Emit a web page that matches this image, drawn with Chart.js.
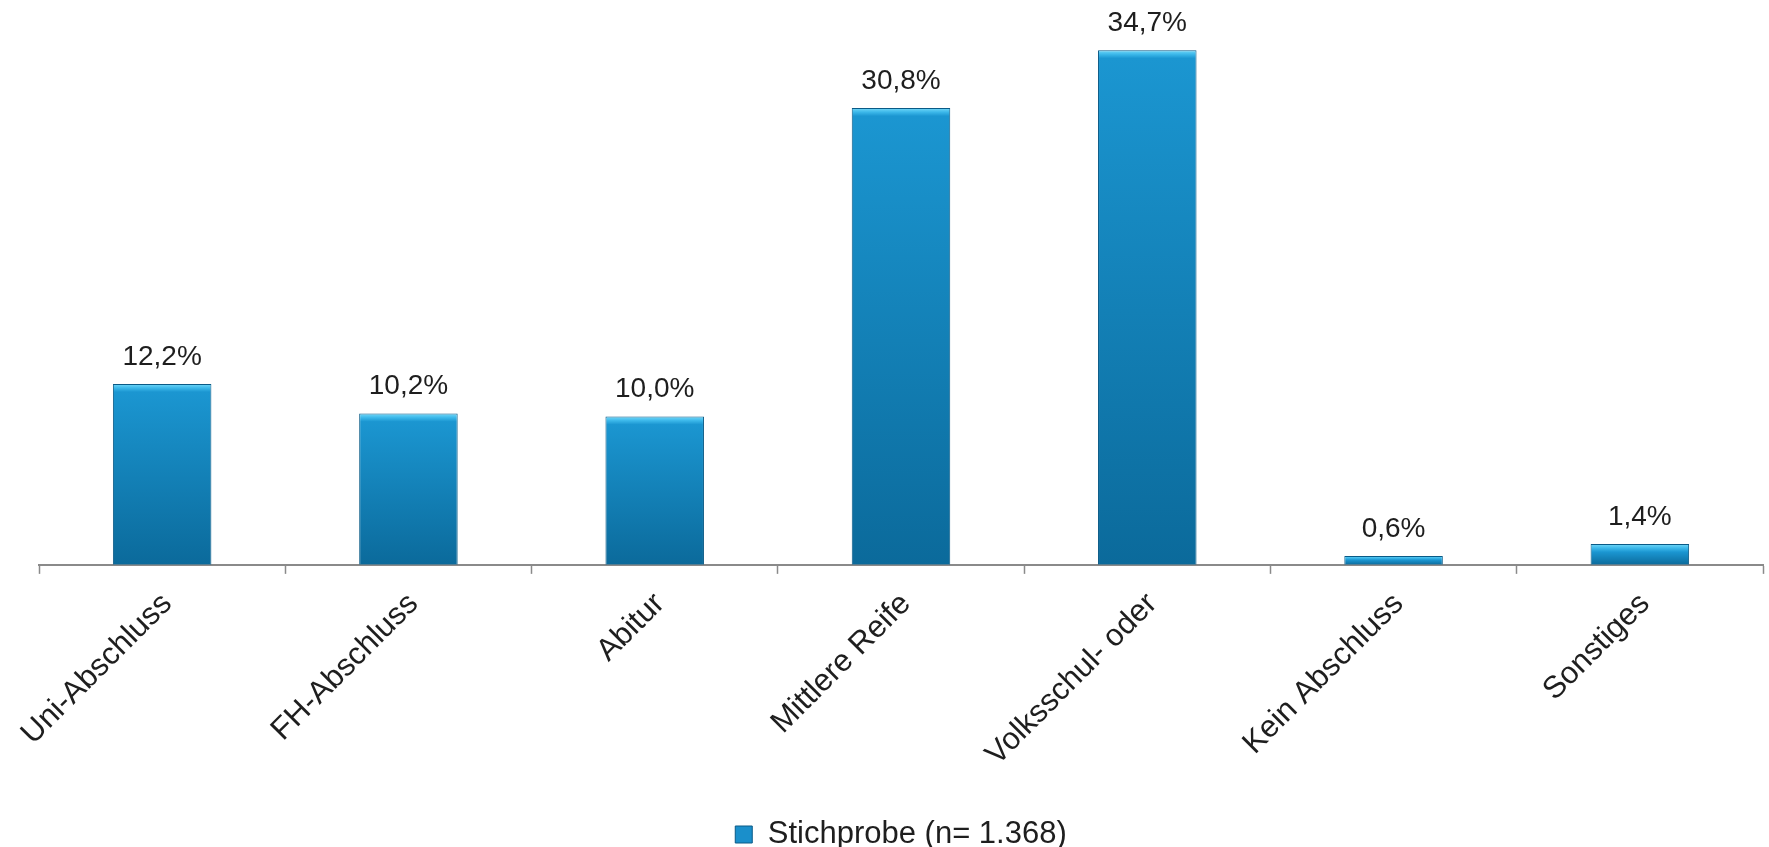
<!DOCTYPE html>
<html>
<head>
<meta charset="utf-8">
<script src="https://cdn.jsdelivr.net/npm/chart.js@4.4.1/dist/chart.umd.min.js"></script>
<style>
  html, body { margin: 0; padding: 0; background: #fff; }
  #wrap { width: 1769px; height: 847px; }
</style>
</head>
<body>
<div id="wrap"><canvas id="chart"></canvas></div>
<script>
const categories = ['Uni-Abschluss', 'FH-Abschluss', 'Abitur', 'Mittlere Reife', 'Volksschul- oder', 'Kein Abschluss', 'Sonstiges'];
const sampleValues = [12.2, 10.2, 10.0, 30.8, 34.7, 0.6, 1.4];
const seriesLabel = 'Stichprobe (n= 1.368)';

const FONT = "'Liberation Sans', Arial, sans-serif";
const TEXT_COLOR = '#1e1e1e';

function fmtPct(v) {
  return v.toFixed(1).replace('.', ',') + '%';
}

// per-bar vertical gradient with a light bevel at the top
function barGradient(ctx) {
  const chart = ctx.chart;
  if (!chart.chartArea || ctx.type !== 'data') return '#1a8fcb';
  const y = chart.scales.y;
  const top = y.getPixelForValue(ctx.parsed.y);
  const bottom = y.getPixelForValue(0);
  const h = Math.max(bottom - top, 1);
  const g = chart.ctx.createLinearGradient(0, top, 0, bottom);
  const bevel = Math.min(8 / h, 0.45);
  g.addColorStop(0, '#74d8f8');
  g.addColorStop(bevel * 0.5, '#3cb8ea');
  g.addColorStop(bevel, '#1b96d1');
  g.addColorStop(1, '#0b6a9b');
  return g;
}

const valueLabels = {
  id: 'valueLabels',
  afterDatasetsDraw(chart) {
    const ctx = chart.ctx;
    const meta = chart.getDatasetMeta(0);
    ctx.save();
    ctx.font = '28px ' + FONT;
    ctx.fillStyle = TEXT_COLOR;
    ctx.textAlign = 'center';
    ctx.textBaseline = 'bottom';
    meta.data.forEach((bar, i) => {
      ctx.fillText(fmtPct(sampleValues[i]), bar.x, bar.y - 13);
    });
    ctx.restore();
  }
};

// legend sits very close to the bottom edge in the original
const lowerLegend = {
  id: 'lowerLegend',
  beforeLayout(chart) {
    const legend = chart.legend;
    if (!legend || legend._lowered) return;
    const fit = legend.fit;
    legend.fit = function () {
      fit.call(this);
      this.height -= 13;
    };
    legend._lowered = true;
  }
};

new Chart(document.getElementById('chart'), {
  type: 'bar',
  data: {
    labels: categories,
    datasets: [{
      label: seriesLabel,
      data: sampleValues,
      backgroundColor: barGradient,
      borderColor: '#0a5a86',
      borderWidth: 1,
      barPercentage: 0.8,
      categoryPercentage: 0.5
    }]
  },
  options: {
    responsive: true,
    maintainAspectRatio: false,
    animation: false,
    layout: { padding: { left: 39, right: 6, top: 31, bottom: 0 } },
    plugins: {
      tooltip: { enabled: false },
      legend: {
        position: 'bottom',
        labels: {
          color: TEXT_COLOR,
          font: { family: FONT, size: 31 },
          boxWidth: 17,
          boxHeight: 17,
          padding: 5,
          generateLabels(chart) {
            return [{
              text: seriesLabel,
              fillStyle: '#1a8fcb',
              strokeStyle: '#0a5a86',
              lineWidth: 1,
              fontColor: TEXT_COLOR,
              datasetIndex: 0
            }];
          }
        }
      }
    },
    scales: {
      x: {
        afterFit(scale) {
          scale.height += 29;
        },
        grid: {
          display: true,
          drawOnChartArea: false,
          drawTicks: true,
          tickLength: 9,
          tickColor: '#8a8a8a',
          tickWidth: 1.5,
          offset: true
        },
        border: { display: true, color: '#8a8a8a', width: 2 },
        ticks: {
          color: TEXT_COLOR,
          font: { family: FONT, size: 31 },
          minRotation: 45,
          maxRotation: 45,
          autoSkip: false,
          padding: 12,
          labelOffset: 5
        }
      },
      y: {
        display: false,
        min: 0,
        max: 36
      }
    }
  },
  plugins: [valueLabels, lowerLegend]
});
</script>
</body>
</html>
